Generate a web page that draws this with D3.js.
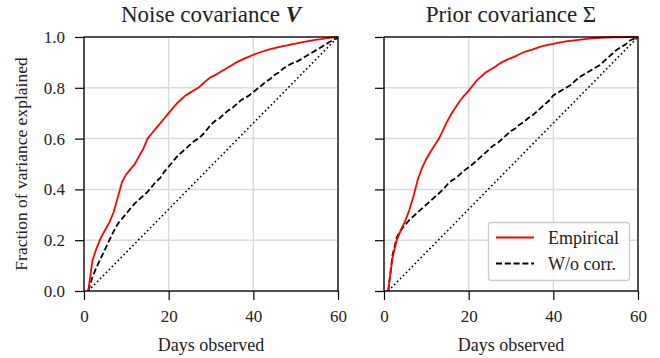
<!DOCTYPE html>
<html><head><meta charset="utf-8">
<script src="https://cdn.jsdelivr.net/npm/d3@7"></script>
<style>body{margin:0;background:#fff}svg{display:block}text{font-family:"Liberation Serif","DejaVu Serif",serif;fill:#222}</style>
</head><body><svg id="c" width="660" height="358"></svg>
<script>
const days = d3.range(1, 61);
const xTicks = [0, 20, 40, 60];
const yTicks = [0.0, 0.2, 0.4, 0.6, 0.8, 1.0];
const seriesNames = ["Empirical", "W/o corr."];
const panelTitles = ["Noise covariance ", "Prior covariance Σ"];

const noiseEmpirical = [0,0.12,0.17,0.21,0.24,0.27,0.31,0.37,0.43,0.46,0.48,0.5,0.53,0.56,0.6,0.62,0.64,0.66,0.68,0.7,0.72,0.74,0.755,0.77,0.78,0.79,0.8,0.815,0.83,0.842,0.85,0.86,0.87,0.88,0.89,0.9,0.908,0.916,0.923,0.93,0.936,0.942,0.947,0.952,0.956,0.96,0.964,0.967,0.971,0.974,0.978,0.981,0.984,0.987,0.99,0.992,0.995,0.997,0.999,1.0];
const noiseWoCorr = [0,0.055,0.095,0.13,0.165,0.2,0.235,0.265,0.285,0.305,0.325,0.345,0.36,0.375,0.39,0.41,0.43,0.445,0.47,0.49,0.51,0.53,0.545,0.56,0.575,0.59,0.6,0.615,0.635,0.655,0.67,0.68,0.695,0.71,0.72,0.735,0.75,0.76,0.77,0.783,0.797,0.81,0.825,0.835,0.85,0.86,0.875,0.885,0.895,0.9,0.91,0.92,0.93,0.94,0.95,0.96,0.97,0.98,0.99,1.0];
const priorEmpirical = [0,0.13,0.2,0.24,0.275,0.32,0.375,0.44,0.485,0.52,0.548,0.575,0.6,0.635,0.67,0.7,0.725,0.75,0.77,0.788,0.81,0.83,0.845,0.86,0.87,0.88,0.892,0.902,0.91,0.917,0.924,0.932,0.94,0.945,0.95,0.956,0.962,0.966,0.97,0.973,0.977,0.98,0.983,0.985,0.987,0.989,0.991,0.993,0.995,0.996,0.997,0.998,0.998,0.999,0.999,0.999,1.0,1.0,1.0,1.0];
const priorWoCorr = [0,0.14,0.21,0.24,0.26,0.28,0.295,0.31,0.325,0.34,0.355,0.37,0.385,0.4,0.42,0.435,0.445,0.46,0.475,0.487,0.5,0.515,0.53,0.545,0.56,0.575,0.585,0.6,0.615,0.63,0.64,0.655,0.665,0.68,0.69,0.705,0.72,0.735,0.75,0.77,0.78,0.79,0.8,0.81,0.825,0.84,0.85,0.86,0.87,0.88,0.89,0.905,0.92,0.935,0.95,0.96,0.97,0.985,0.993,1.0];
const diagonalDays = [1, 60];
const diagonalValues = [0, 1];

const svg = d3.select("#c");
const yTop = 37, yBottom = 291;
const FONT = '"Liberation Serif","DejaVu Serif",serif';
const panels = [
  {left: 84, right: 338, emp: noiseEmpirical, wo: noiseWoCorr, title: panelTitles[0], bold: "V", yLabels: true, legend: false},
  {left: 384, right: 638, emp: priorEmpirical, wo: priorWoCorr, title: panelTitles[1], bold: null, yLabels: false, legend: true}
];
const y = d3.scaleLinear().domain([0, 1]).range([yBottom, yTop]);

panels.forEach((p, pi) => {
  const x = d3.scaleLinear().domain([0, 60]).range([p.left, p.right]);
  const g = svg.append("g");
  g.selectAll(".gx").data(xTicks).join("line")
    .attr("x1", d => x(d)).attr("x2", d => x(d)).attr("y1", yTop).attr("y2", yBottom)
    .attr("stroke", "#dcdcdc").attr("stroke-width", 1.5);
  g.selectAll(".gy").data(yTicks).join("line")
    .attr("y1", d => y(d)).attr("y2", d => y(d)).attr("x1", p.left).attr("x2", p.right)
    .attr("stroke", "#dcdcdc").attr("stroke-width", 1.5);

  const clipId = "clip" + pi;
  svg.append("clipPath").attr("id", clipId).append("rect")
    .attr("x", p.left).attr("y", yTop - 2).attr("width", p.right - p.left + 2).attr("height", yBottom - yTop + 2);

  const line = d3.line().x(d => x(d[0])).y(d => y(d[1]));
  const lg = g.append("g").attr("clip-path", `url(#${clipId})`);
  lg.append("path").datum(diagonalDays.map((d, i) => [d, diagonalValues[i]])).attr("d", line)
    .attr("fill", "none").attr("stroke", "#000").attr("stroke-width", 1.6).attr("stroke-dasharray", "1.6,2.6");
  lg.append("path").datum(days.map((d, i) => [d, p.wo[i]])).attr("d", line)
    .attr("fill", "none").attr("stroke", "#000").attr("stroke-width", 1.8).attr("stroke-dasharray", "6,2.8");
  lg.append("path").datum(days.map((d, i) => [d, p.emp[i]])).attr("d", line)
    .attr("fill", "none").attr("stroke", "#ff0000").attr("stroke-width", 1.8);

  const xa = g.append("g").attr("transform", `translate(0,${yBottom})`)
    .call(d3.axisBottom(x).tickValues(xTicks).tickSize(9).tickPadding(10).tickFormat(d3.format("d")));
  const ya = g.append("g").attr("transform", `translate(${p.left},0)`)
    .call(d3.axisLeft(y).tickValues(yTicks).tickSize(9).tickPadding(10).tickFormat(p.yLabels ? d3.format(".1f") : () => ""));
  [xa, ya].forEach(a => {
    a.attr("font-family", FONT).attr("font-size", 17);
    a.select(".domain").remove();
    a.selectAll("line").attr("stroke", "#000").attr("stroke-width", 1.2);
    a.selectAll("text").style("font-family", FONT).style("font-size", "17px").attr("fill", "#222");
  });
  g.append("rect").attr("x", p.left).attr("y", yTop).attr("width", p.right - p.left).attr("height", yBottom - yTop)
    .attr("fill", "none").attr("stroke", "#000").attr("stroke-width", 1.3);

  const t = g.append("text").attr("x", (p.left + p.right) / 2).attr("y", 22).attr("text-anchor", "middle")
    .style("font-size", "23px").text(p.title);
  if (p.bold) t.append("tspan").style("font-weight", "bold").style("font-style", "italic").text(p.bold);
  g.append("text").attr("x", (p.left + p.right) / 2).attr("y", 351).attr("text-anchor", "middle")
    .style("font-size", "18px").text("Days observed");

  if (p.legend) {
    const lx = 488.5, ly = 222.5;
    g.append("rect").attr("x", lx).attr("y", ly).attr("width", 141).attr("height", 58).attr("rx", 3)
      .attr("fill", "#fff").attr("fill-opacity", 0.85).attr("stroke", "#cccccc").attr("stroke-width", 1.3);
    const styles = [{c: "#ff0000", dash: null}, {c: "#000", dash: "6,2.8"}];
    seriesNames.forEach((n, i) => {
      const yy = ly + 15 + i * 26;
      g.append("line").attr("x1", 496).attr("x2", 534).attr("y1", yy).attr("y2", yy)
        .attr("stroke", styles[i].c).attr("stroke-width", 1.8).attr("stroke-dasharray", styles[i].dash);
      g.append("text").attr("x", 548).attr("y", yy + 6).style("font-size", "18px").text(n);
    });
  }
});

svg.append("text").attr("transform", `translate(26.5,${(yTop + yBottom) / 2}) rotate(-90)`)
  .attr("text-anchor", "middle").style("font-size", "17.5px").text("Fraction of variance explained");
</script>
</body></html>
